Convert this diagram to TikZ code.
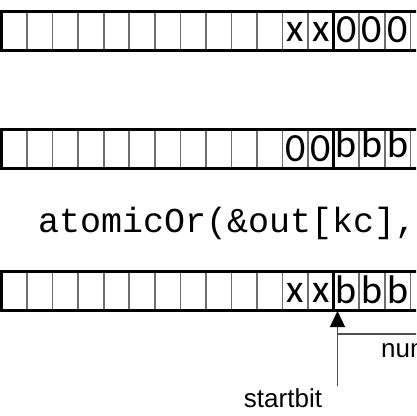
\documentclass[tikz,border=0pt]{standalone}
\usepackage{fontspec}
\setmainfont{Liberation Sans}
\newfontfamily\cellfont{Carlito}
\newfontfamily\codefont{Liberation Mono}
\usetikzlibrary{arrows.meta}
\definecolor{divgray}{HTML}{6E6E6E}
\definecolor{linegray}{HTML}{505050}
\tikzset{
  cellsym/.style={font=\cellfont\fontsize{40}{40}\selectfont, anchor=base, inner sep=0pt},
  labeltext/.style={font=\fontsize{26}{26}\selectfont, anchor=base, inner sep=0pt},
  codetext/.style={font=\codefont\fontsize{35}{35}\selectfont, anchor=base west, inner sep=0pt},
  divider/.style={draw=divgray, line width=1.6pt},
  strongdiv/.style={draw=black, line width=3pt},
  outerbox/.style={draw=black, line width=3pt},
  pointer/.style={draw=linegray, line width=1.4pt},
}
\begin{document}
\begin{tikzpicture}[x=1pt,y=-1pt]
\useasboundingbox (0,0) rectangle (416,416);
\clip (0,0) rectangle (416,416);
\fill[white] (0,0) rectangle (416,416);
% three register rows
\foreach \r/\ya/\yb in {1/11.5/50, 2/129.5/168, 3/271/310} {
  \foreach \i in {1,...,17} {
    \ifnum\i=13
      \draw[strongdiv] ({1.5+25.55*\i},\ya) -- ({1.5+25.55*\i},\yb);
    \else
      \draw[divider] ({1.5+25.55*\i},\ya) -- ({1.5+25.55*\i},\yb);
    \fi
  }
  \draw[outerbox] (440,\ya) -- (1.5,\ya) -- (1.5,\yb) -- (440,\yb);
}
% row 1 contents
\node[cellsym] (r1x1) at ({1.5+25.55*11.5},41.5) {x};
\node[cellsym] (r1x2) at ({1.5+25.55*12.5},41.5) {x};
\node[cellsym] (r1z1) at ({1.5+25.55*13.5},42) {0};
\node[cellsym] (r1z2) at ({1.5+25.55*14.5},42) {0};
\node[cellsym] (r1z3) at ({1.5+25.55*15.5},42) {0};
\node[cellsym] (r1z4) at ({1.5+25.55*16.5+9},42) {0};
% row 2 contents
\node[cellsym] (r2z1) at ({1.5+25.55*11.5},161) {0};
\node[cellsym] (r2z2) at ({1.5+25.55*12.5},161) {0};
\node[cellsym] (r2b1) at ({1.5+25.55*13.5},157) {b};
\node[cellsym] (r2b2) at ({1.5+25.55*14.5},157) {b};
\node[cellsym] (r2b3) at ({1.5+25.55*15.5},157) {b};
% code line
\node[codetext] (code) at (38,232) {atomicOr(\&out[kc],};
% row 3 contents
\node[cellsym] (r3x1) at ({1.5+25.55*11.5},302) {x};
\node[cellsym] (r3x2) at ({1.5+25.55*12.5},302) {x};
\node[cellsym] (r3b1) at ({1.5+25.55*13.5},303) {b};
\node[cellsym] (r3b2) at ({1.5+25.55*14.5},303) {b};
\node[cellsym] (r3b3) at ({1.5+25.55*15.5},303) {b};
% startbit pointer
\node[labeltext] (sb) at (283,407) {startbit};
\coordinate (tip) at (337.5,311);
\coordinate (foot) at (337.5,386);
\draw[pointer, -{Triangle[width=15pt,length=16pt,color=black]}] (foot) -- (tip);
\coordinate (brk) at (337.5,334);
\coordinate (brkend) at (440,334);
\draw[pointer] (brk) -- (brkend);
\node[labeltext, anchor=base west] (num) at (381,357) {num};
\end{tikzpicture}
\end{document}
